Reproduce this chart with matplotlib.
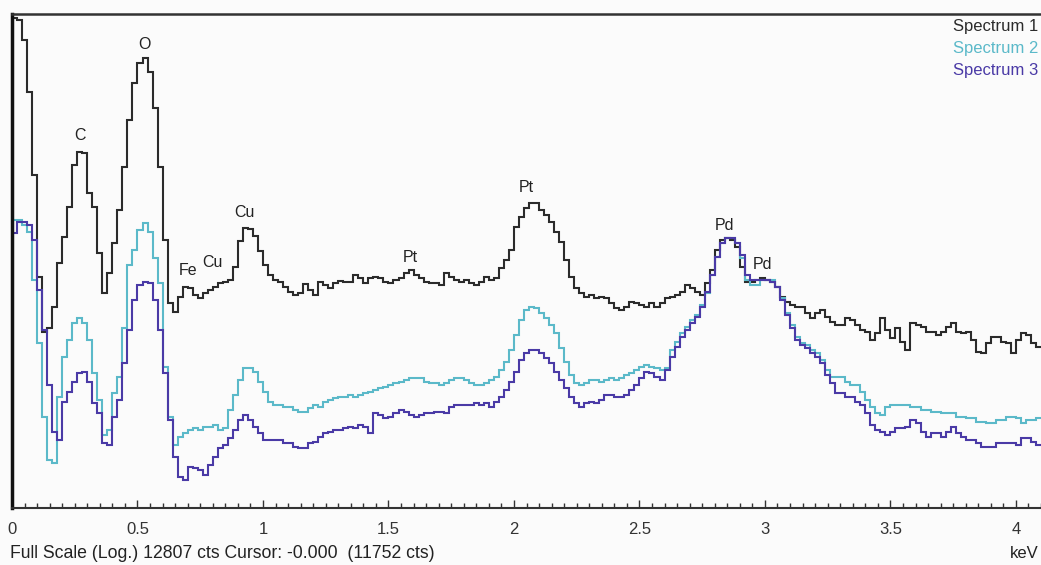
import numpy as np
import matplotlib
matplotlib.use("Agg")
import matplotlib.pyplot as plt
from matplotlib.ticker import MultipleLocator

plt.rcParams['font.family'] = ['Liberation Sans', 'DejaVu Sans']

# EDS spectra, 0.02 keV channels starting at 0 keV, counts (log display)
channel_kev = 0.02

spectrum1 = [
    11752, 11500, 7800, 2880, 587, 83.3, 29.1, 31.4, 46.9, 109,
    179, 318, 711, 912, 895, 416, 318, 132, 61.3, 90,
    160, 300, 684, 1683, 3418, 5013, 5516, 4219, 2118, 684,
    169, 50.7, 42.6, 56.8, 68.8, 67.5, 59, 55.7, 61.3, 65,
    68.8, 74.3, 75.7, 78.7, 101, 166, 213, 209, 183, 137,
    105, 86.6, 78.7, 75.7, 68.8, 62.5, 59, 61.3, 72.9, 65,
    59, 75.7, 71.5, 67.5, 74.3, 77.2, 75.7, 75.7, 86.6, 81.7,
    74.3, 81.7, 83.3, 81.7, 75.7, 74.3, 78.7, 81.7, 90, 95.3,
    86.6, 81.7, 75.7, 74.3, 74.3, 71.5, 90, 83.3, 78.7, 75.7,
    78.7, 74.3, 71.5, 75.7, 83.3, 78.7, 81.7, 99, 115, 140,
    217, 263, 312, 344, 344, 300, 273, 239, 197, 163,
    115, 83.3, 67.5, 61.3, 56.8, 59, 55.7, 56.8, 55.7, 50.7,
    46, 44.3, 46.9, 51.6, 50.7, 48.7, 46.9, 50.7, 46.9, 50.7,
    55.7, 56.8, 59, 62.5, 71.5, 67.5, 62.5, 59, 74.3, 95.3,
    140, 169, 176, 169, 148, 101, 75.7, 75.7, 78.7, 81.7,
    78.7, 75.7, 68.8, 56.8, 51.6, 48.7, 46.9, 46.9, 41.8, 38,
    41.8, 44.3, 38.7, 35.2, 33.2, 33.2, 38, 36.6, 33.2, 30.2,
    29.1, 24.9, 28.5, 38, 30.2, 25.9, 31.4, 24, 20.6, 34.5,
    33.2, 32, 29.1, 29.1, 27.4, 29.1, 32, 34.5, 29.1, 28.5,
    29.1, 24.9, 19.8, 19.5, 23.6, 26.4, 26.4, 24, 23.6, 19.5,
    24.9, 28.5, 27.4, 23.6, 21.8,
]

spectrum2 = [
    248, 248, 225, 197, 78.7, 23.6, 5.71, 2.51, 2.37, 8.37,
    18.0, 24.9, 34.5, 38.0, 34.5, 24.9, 13.3, 7.91, 4.05, 4.45,
    9.04, 12.3, 31.4, 105, 140, 205, 234, 197, 120, 74.3,
    14.9, 5.71, 3.34, 3.89, 4.20, 4.45, 4.63, 4.45, 4.72, 4.72,
    4.90, 4.45, 4.63, 6.53, 8.70, 11.6, 14.6, 14.6, 13.5, 11.2,
    9.22, 7.61, 7.18, 7.18, 6.92, 6.92, 6.53, 6.28, 6.28, 6.78,
    7.18, 6.92, 7.61, 7.91, 8.22, 8.37, 8.37, 8.70, 8.37, 8.70,
    9.04, 9.22, 9.58, 9.95, 10.1, 10.5, 10.95, 11.2, 11.6, 12.05,
    12.05, 12.05, 11.2, 10.95, 10.95, 10.5, 10.95, 11.6, 12.05, 12.05,
    11.6, 10.95, 10.5, 10.5, 10.95, 11.6, 12.3, 14.0, 16.4, 20.6,
    27.4, 36.6, 44.3, 46.9, 46.0, 41.8, 38.0, 33.2, 28.5, 21.4,
    16.4, 12.8, 10.95, 10.5, 10.95, 11.6, 11.6, 11.2, 11.6, 12.05,
    11.6, 12.05, 12.8, 13.3, 14.0, 14.9, 15.5, 14.9, 14.6, 14.0,
    14.6, 20.6, 24.0, 28.5, 32.0, 36.6, 40.3, 48.7, 61.3, 86.6,
    122, 160, 176, 176, 160, 120, 78.7, 71.5, 71.5, 78.7,
    78.7, 78.7, 68.8, 55.7, 41.8, 33.2, 26.4, 23.6, 22.7, 20.6,
    19.5, 17.0, 14.0, 12.3, 12.3, 12.3, 11.2, 10.5, 10.5, 9.22,
    7.91, 6.92, 6.17, 5.93, 6.92, 7.18, 7.18, 7.18, 7.18, 6.92,
    6.92, 6.53, 6.53, 6.28, 6.28, 6.17, 6.17, 6.17, 5.71, 5.71,
    5.60, 5.60, 5.19, 5.19, 5.09, 5.09, 5.39, 5.39, 5.71, 5.71,
    5.60, 5.09, 5.39, 5.39, 5.60,
]

spectrum3 = [
    193, 239, 239, 225, 169, 65, 30.2, 10.5, 4.28, 3.68,
    7.61, 9.22, 11.2, 13.3, 13.5, 11.2, 7.47, 6.17, 3.47, 3.34,
    5.71, 7.91, 16.1, 30.2, 53.6, 71.5, 75.7, 74.3, 53.6, 30.2,
    13.3, 5.39, 2.65, 1.81, 1.71, 2.19, 2.15, 2.07, 1.88, 2.28,
    2.65, 3.15, 3.34, 3.82, 4.45, 5.39, 5.93, 5.39, 4.72, 4.20,
    3.68, 3.68, 3.68, 3.68, 3.47, 3.47, 3.22, 3.15, 3.15, 3.47,
    3.54, 3.89, 4.20, 4.28, 4.45, 4.45, 4.63, 4.72, 4.63, 4.90,
    4.72, 4.20, 6.17, 5.93, 5.60, 5.71, 6.17, 6.53, 6.28, 5.93,
    5.71, 5.93, 6.17, 6.17, 6.28, 6.28, 6.17, 6.92, 7.18, 7.18,
    7.18, 7.18, 7.47, 7.18, 7.47, 6.92, 7.61, 8.37, 9.58, 11.2,
    13.5, 17.0, 19.5, 20.6, 20.6, 19.5, 17.7, 16.1, 13.5, 11.6,
    9.95, 8.37, 7.47, 6.92, 7.47, 7.61, 7.47, 7.91, 8.70, 8.70,
    8.37, 8.37, 8.70, 9.58, 10.5, 12.05, 13.5, 13.3, 12.3, 11.6,
    14.0, 18.0, 21.8, 26.4, 30.2, 34.5, 38.7, 46.9, 62.5, 86.6,
    122, 160, 176, 176, 160, 127, 86.6, 78.7, 78.7, 78.7,
    78.7, 75.7, 68.8, 53.6, 40.3, 31.4, 24.9, 22.7, 21.4, 19.5,
    18.0, 16.1, 12.8, 10.95, 9.04, 9.04, 8.37, 8.37, 7.61, 7.18,
    6.17, 4.90, 4.45, 4.28, 4.05, 4.28, 4.63, 4.63, 4.72, 5.39,
    5.09, 4.28, 3.89, 4.20, 4.20, 3.89, 4.28, 4.72, 4.20, 3.89,
    3.68, 3.68, 3.47, 3.22, 3.22, 3.22, 3.47, 3.47, 3.47, 3.47,
    3.34, 3.82, 3.82, 3.54, 3.34,
]

series_names = ["Spectrum 1", "Spectrum 2", "Spectrum 3"]
series_colors = ["#2b2b2b", "#5bb9c9", "#4a3aa6"]

# peak markers: (label, keV, counts)
peak_labels = ["C", "O", "Fe", "Cu", "Cu", "Pt", "Pt", "Pd", "Pd"]
peak_kev = [0.27, 0.526, 0.70, 0.80, 0.925, 1.586, 2.05, 2.84, 2.99]
peak_counts = [1262, 7080, 95, 111, 284, 122, 458, 225, 105]

tick_values = [0, 0.5, 1, 1.5, 2, 2.5, 3, 3.5, 4]
tick_labels = ["0", "0.5", "1", "1.5", "2", "2.5", "3", "3.5", "4"]

full_scale = 12807
status_text = "Full Scale (Log.) 12807 cts Cursor: -0.000  (11752 cts)"

W, H = 1041, 565
fig = plt.figure(figsize=(W / 100, H / 100), dpi=100)
fig.patch.set_facecolor("#fbfbfb")
ax = fig.add_axes([12 / W, 57 / H, 1029 / W, 494 / H])
ax.set_facecolor("#fbfbfb")

edges = np.arange(len(spectrum1) + 1) * channel_kev
for vals, col in zip([spectrum1, spectrum2, spectrum3], series_colors):
    ax.stairs(vals, edges, baseline=None, color=col, lw=1.5)

ax.set_yscale("log")
ax.set_ylim(1, full_scale)
ax.set_xlim(0, 4.1)
ax.set_yticks([])
ax.minorticks_off()
ax.set_xticks(tick_values)
ax.set_xticklabels(tick_labels)
ax.xaxis.set_minor_locator(MultipleLocator(0.05))
ax.tick_params(axis="x", which="major", direction="in", length=6, width=1,
               color="#333333", labelsize=12, labelcolor="#333333", pad=10)
ax.tick_params(axis="x", which="minor", direction="in", length=3.5, width=1,
               color="#333333")
ax.tick_params(axis="y", which="both", left=False, labelleft=False)

ax.spines["right"].set_visible(False)
ax.spines["left"].set_linewidth(2.5)
ax.spines["left"].set_color("#111111")
ax.spines["top"].set_linewidth(1.8)
ax.spines["top"].set_color("#333333")
ax.spines["bottom"].set_linewidth(1.5)
ax.spines["bottom"].set_color("#333333")

for lab, xk, yc in zip(peak_labels, peak_kev, peak_counts):
    ax.text(xk, yc, lab, ha="center", va="center", fontsize=11.5, color="#222222")

for i, (name, col) in enumerate(zip(series_names, series_colors)):
    fig.text(953 / W, 1 - (27 + 22 * i) / H, name, ha="left", va="center",
             fontsize=12, color=col)

fig.text(10 / W, 1 - 553 / H, status_text, ha="left", va="center",
         fontsize=12.7, color="#222222")
fig.text(1039 / W, 1 - 553 / H, "keV", ha="right", va="center",
         fontsize=12, color="#222222")

fig.savefig("out.png", dpi=100, facecolor=fig.get_facecolor())
